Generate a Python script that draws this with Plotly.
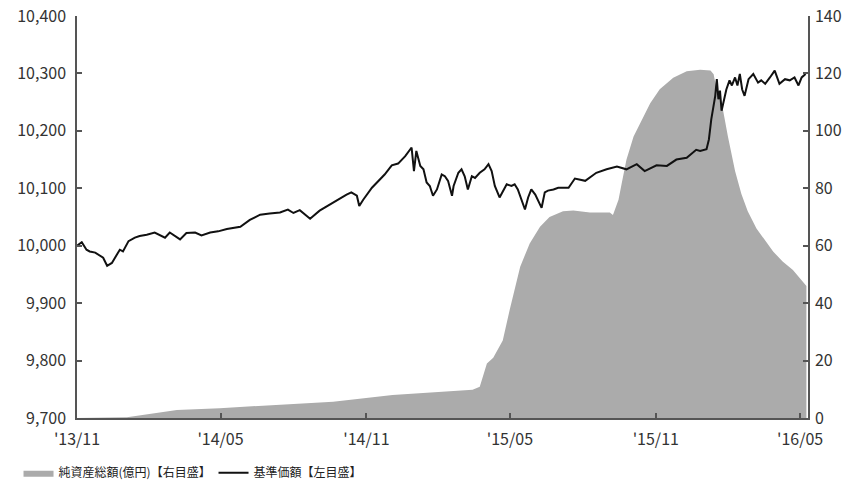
import plotly.graph_objects as go

# 基準価額 (left axis, 円)
nav_dates = [
    "2013-11-01", "2013-11-07", "2013-11-13", "2013-11-17", "2013-11-24", "2013-11-28",
    "2013-12-04", "2013-12-09", "2013-12-15", "2013-12-21", "2013-12-25", "2013-12-29",
    "2014-01-05", "2014-01-13", "2014-01-19", "2014-01-28", "2014-02-07", "2014-02-20",
    "2014-02-26", "2014-03-11", "2014-03-19", "2014-03-30", "2014-04-07", "2014-04-18",
    "2014-04-28", "2014-05-09", "2014-05-17", "2014-05-26", "2014-06-07", "2014-06-20",
    "2014-07-02", "2014-07-15", "2014-07-25", "2014-08-01", "2014-08-09", "2014-08-22",
    "2014-09-03", "2014-09-16", "2014-09-27", "2014-10-07", "2014-10-13", "2014-10-20",
    "2014-10-23", "2014-10-28", "2014-11-08", "2014-11-16", "2014-11-24", "2014-12-03",
    "2014-12-11", "2014-12-20", "2014-12-28", "2014-12-31", "2015-01-03", "2015-01-08",
    "2015-01-12", "2015-01-16", "2015-01-20", "2015-01-24", "2015-01-29", "2015-02-04",
    "2015-02-08", "2015-02-12", "2015-02-17", "2015-02-19", "2015-02-25", "2015-03-01",
    "2015-03-05", "2015-03-09", "2015-03-14", "2015-03-18", "2015-03-24", "2015-03-30",
    "2015-04-04", "2015-04-08", "2015-04-12", "2015-04-18", "2015-04-23", "2015-04-27",
    "2015-05-03", "2015-05-07", "2015-05-11", "2015-05-16", "2015-05-20", "2015-05-24",
    "2015-05-28", "2015-06-02", "2015-06-06", "2015-06-10", "2015-06-14", "2015-06-18",
    "2015-06-25", "2015-07-01", "2015-07-14", "2015-07-22", "2015-08-04", "2015-08-18",
    "2015-08-31", "2015-09-13", "2015-09-25", "2015-10-08", "2015-10-18", "2015-11-02",
    "2015-11-15", "2015-11-27", "2015-12-10", "2015-12-22", "2015-12-27", "2016-01-04",
    "2016-01-07", "2016-01-10", "2016-01-15", "2016-01-17", "2016-01-19", "2016-01-21",
    "2016-01-23", "2016-01-26", "2016-01-29", "2016-02-02", "2016-02-05", "2016-02-09",
    "2016-02-12", "2016-02-15", "2016-02-18", "2016-02-21", "2016-02-26", "2016-03-03",
    "2016-03-09", "2016-03-13", "2016-03-18", "2016-03-24", "2016-03-30", "2016-04-05",
    "2016-04-12", "2016-04-18", "2016-04-24", "2016-04-29", "2016-05-03", "2016-05-08",
]
nav_values = [
    10000, 10006, 9993, 9990, 9988, 9984,
    9979, 9965, 9970, 9984, 9993, 9990,
    10008, 10014, 10017, 10019, 10023, 10014,
    10023, 10011, 10022, 10023, 10018, 10023,
    10025, 10029, 10031, 10033, 10045, 10054,
    10056, 10058, 10063, 10057, 10062, 10047,
    10061, 10072, 10082, 10089, 10093, 10087,
    10069, 10080, 10101, 10113, 10124, 10140,
    10143, 10156, 10171, 10130, 10165, 10139,
    10133, 10110, 10104, 10087, 10098, 10124,
    10121, 10113, 10087, 10104, 10127, 10133,
    10121, 10098, 10121, 10118, 10127, 10133,
    10142, 10130, 10104, 10084, 10098, 10107,
    10104, 10107, 10098, 10078, 10063, 10084,
    10098, 10089, 10078, 10066, 10093, 10096,
    10098, 10101, 10101, 10117, 10113, 10127,
    10133, 10138, 10133, 10142, 10130, 10140,
    10139, 10150, 10153, 10167, 10165, 10168,
    10185, 10220, 10261, 10290, 10255, 10270,
    10235, 10255, 10272, 10288, 10279, 10293,
    10279, 10299, 10272, 10261, 10290, 10299,
    10284, 10288, 10282, 10293, 10305, 10282,
    10290, 10288, 10293, 10279, 10293, 10299,
]

# 純資産総額 (right axis, 億円)
aum_dates = [
    "2013-11-01", "2014-01-03", "2014-03-07", "2014-04-30", "2014-09-20", "2014-12-04",
    "2015-03-15", "2015-03-24", "2015-04-02", "2015-04-10", "2015-04-22", "2015-05-01",
    "2015-05-14", "2015-05-26", "2015-06-08", "2015-06-20", "2015-07-07", "2015-07-20",
    "2015-08-10", "2015-09-04", "2015-09-08", "2015-09-15", "2015-09-19", "2015-09-25",
    "2015-10-04", "2015-10-12", "2015-10-25", "2015-11-06", "2015-11-23", "2015-12-10",
    "2015-12-27", "2016-01-09", "2016-01-13", "2016-01-17", "2016-01-23", "2016-01-31",
    "2016-02-09", "2016-02-17", "2016-02-25", "2016-03-07", "2016-03-17", "2016-03-28",
    "2016-04-09", "2016-04-22", "2016-05-09",
]
aum_values = [
    0, 0.3, 2.8, 3.4, 5.7, 8.0,
    9.8, 10.9, 19, 21, 27, 38,
    52.7, 60.8, 66.6, 70, 72, 72.3,
    71.6, 71.6, 70.7, 76, 81.7, 89.9,
    98, 102.6, 109.6, 114.5, 118.5, 120.8,
    121.3, 121, 119.7, 114, 110, 98,
    86, 78, 72, 66, 62, 58,
    54.5, 51.5, 46,
]

x_tick_vals = ["2013-11-01", "2014-05-01", "2014-11-01", "2015-05-01", "2015-11-01", "2016-05-01"]
x_tick_text = ["'13/11", "'14/05", "'14/11", "'15/05", "'15/11", "'16/05"]
left_ticks = [9700, 9800, 9900, 10000, 10100, 10200, 10300, 10400]
right_ticks = [0, 20, 40, 60, 80, 100, 120, 140]

FONT = "Noto Sans CJK JP"
AXC = "#555555"

fig = go.Figure()
fig.add_trace(go.Scatter(
    x=aum_dates, y=aum_values, yaxis="y", mode="lines",
    fill="tozeroy", fillcolor="#ababab", line=dict(color="#ababab", width=0),
    name="純資産総額(億円)【右目盛】",
))
fig.add_trace(go.Scatter(
    x=nav_dates, y=nav_values, yaxis="y2", mode="lines",
    line=dict(color="#111111", width=2),
    name="基準価額【左目盛】",
))

fig.update_layout(
    width=849, height=482,
    margin=dict(l=77, r=41, t=16, b=64, autoexpand=False),
    paper_bgcolor="white", plot_bgcolor="white",
    font=dict(family=FONT, size=16, color="#333333"),
    showlegend=True,
    legend=dict(orientation="h", x=-0.08, xanchor="left", y=-0.1, yanchor="top",
                font=dict(size=12, color="#222222"), entrywidth=150,
                traceorder="normal", bgcolor="rgba(0,0,0,0)"),
    xaxis=dict(
        type="date", range=["2013-11-01", "2016-05-11"], automargin=False,
        tickvals=x_tick_vals, ticktext=x_tick_text,
        showgrid=False, zeroline=False,
        showline=True, linecolor=AXC, linewidth=1.5,
        ticks="inside", ticklen=5, tickcolor=AXC, tickwidth=1.5,
        tickfont=dict(size=16), ticklabelstandoff=6,
    ),
    yaxis=dict(
        side="right", range=[0, 140], tickvals=right_ticks, automargin=False,
        showgrid=False, zeroline=False,
        showline=True, linecolor=AXC, linewidth=1.5,
        ticks="inside", ticklen=5, tickcolor=AXC, tickwidth=1.5,
        tickfont=dict(size=16), ticklabelstandoff=2,
    ),
    yaxis2=dict(
        side="left", overlaying="y", range=[9700, 10400], tickvals=left_ticks,
        tickformat=",d", automargin=False,
        showgrid=False, zeroline=False,
        showline=True, linecolor=AXC, linewidth=1.5,
        ticks="inside", ticklen=5, tickcolor=AXC, tickwidth=1.5,
        tickfont=dict(size=16), ticklabelstandoff=6,
    ),
)

fig.write_html("out.html", config={"displayModeBar": False},
               post_script="document.body.style.margin='0px';")
